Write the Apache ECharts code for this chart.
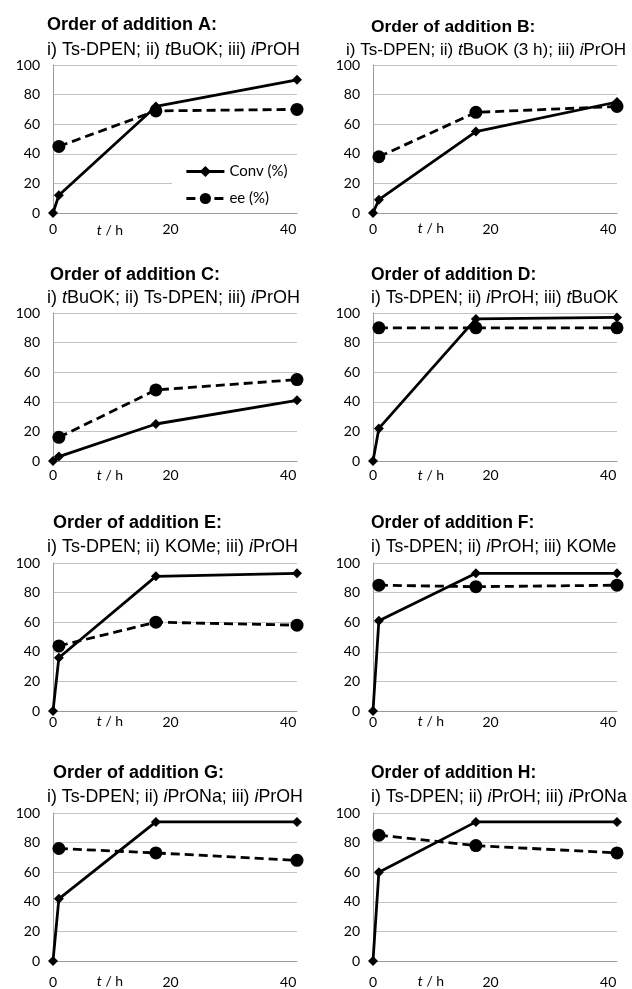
<!DOCTYPE html>
<html>
<head>
<meta charset="utf-8">
<script src="https://cdn.jsdelivr.net/npm/echarts@6/dist/echarts.min.js"></script>
<style>
html,body{margin:0;padding:0;background:#fff;}
#chart{width:632px;height:989px;}
</style>
</head>
<body>
<div id="chart"></div>
<script>
// ---- data ----
const panelLetters = ['A', 'B', 'C', 'D', 'E', 'F', 'G', 'H'];
// subtitle segments: [text, italic?]
const panelOrders = [
  [['i) Ts-DPEN; ii) ', 0], ['t', 1], ['BuOK; iii) ', 0], ['i', 1], ['PrOH', 0]],
  [['i) Ts-DPEN; ii) ', 0], ['t', 1], ['BuOK (3 h); iii) ', 0], ['i', 1], ['PrOH', 0]],
  [['i) ', 0], ['t', 1], ['BuOK; ii) Ts-DPEN; iii) ', 0], ['i', 1], ['PrOH', 0]],
  [['i) Ts-DPEN; ii) ', 0], ['i', 1], ['PrOH; iii) ', 0], ['t', 1], ['BuOK', 0]],
  [['i) Ts-DPEN; ii) KOMe; iii) ', 0], ['i', 1], ['PrOH', 0]],
  [['i) Ts-DPEN; ii) ', 0], ['i', 1], ['PrOH; iii) KOMe', 0]],
  [['i) Ts-DPEN; ii) ', 0], ['i', 1], ['PrONa; iii) ', 0], ['i', 1], ['PrOH', 0]],
  [['i) Ts-DPEN; ii) ', 0], ['i', 1], ['PrOH; iii) ', 0], ['i', 1], ['PrONa', 0]]
];
const convTimes = [0, 1, 17.5, 41.5];
const eeTimes = [1, 17.5, 41.5];
const convA = [0, 12, 72, 90];
const eeA = [45, 69, 70];
const convB = [0, 9, 55, 75];
const eeB = [38, 68, 72];
const convC = [0, 3, 25, 41];
const eeC = [16, 48, 55];
const convD = [0, 22, 96, 97];
const eeD = [90, 90, 90];
const convE = [0, 36, 91, 93];
const eeE = [44, 60, 58];
const convF = [0, 61, 93, 93];
const eeF = [85, 84, 85];
const convG = [0, 42, 94, 94];
const eeG = [76, 73, 68];
const convH = [0, 60, 94, 94];
const eeH = [85, 78, 73];
const xTickLabels = [0, 20, 40];
const yTickLabels = [0, 20, 40, 60, 80, 100];
const seriesNames = ['Conv (%)', 'ee (%)'];
const xAxisTitle = [['t', 1], [' / h', 0]];

const convAll = [convA, convB, convC, convD, convE, convF, convG, convH];
const eeAll = [eeA, eeB, eeC, eeD, eeE, eeF, eeG, eeH];

// ---- layout ----
const gridLeft = [53, 373];
const gridTop = [65, 313, 563, 813];
const gridW = 244, gridH = 148;
const labelMargin = [9, 7, 4, 14];
const titlePos = [
  [47, 25, 47, 50], [371, 27, 346, 50],
  [50, 275, 47, 298], [371, 275, 371, 298],
  [53, 523, 47, 547], [371, 523, 371, 547],
  [53, 773, 47, 797], [371, 773, 371, 797]
];
const titleSize = [18, 17.4, 18, 17.5, 18, 17.5, 18, 17.5];
const subSize = [18, 17.1, 18, 17.6, 18, 17.6, 17.8, 17.8];
const tLabelPos = [
  [110, 230], [431, 228], [110, 475], [431, 475],
  [110, 721], [431, 721], [110, 981], [431, 981]
];

const FONT_T = 'Liberation Sans, Arial, sans-serif';
const FONT_N = 'Lato, Liberation Sans, sans-serif';
const gridColor = '#c3c3c3';
const axisColor = '#9a9a9a';

function richText(segs) {
  return segs.map(s => '{' + (s[1] ? 'i' : 'n') + '|' + s[0] + '}').join('');
}

const grids = [], xAxes = [], yAxes = [], series = [], titles = [], graphics = [];
for (let p = 0; p < 8; p++) {
  const col = p % 2, row = Math.floor(p / 2);
  grids.push({ left: gridLeft[col], top: gridTop[row], width: gridW, height: gridH, containLabel: false });
  xAxes.push({
    type: 'value', gridIndex: p, min: 0, max: convTimes[convTimes.length - 1], interval: 20,
    axisLine: { show: true, onZero: false, lineStyle: { color: axisColor, width: 1 } },
    axisTick: { show: false },
    splitLine: { show: false },
    axisLabel: {
      margin: labelMargin[row], color: '#000', fontFamily: FONT_N, fontSize: 14,
      formatter: v => (xTickLabels.indexOf(v) >= 0 ? String(v) : ''),
      showMaxLabel: false
    }
  });
  yAxes.push({
    type: 'value', gridIndex: p, min: 0, max: 100, interval: 20,
    axisLine: { show: true, lineStyle: { color: axisColor, width: 1 } },
    axisTick: { show: false },
    splitLine: { show: true, lineStyle: { color: gridColor, width: 1 } },
    axisLabel: {
      margin: 13, color: '#000', fontFamily: FONT_N, fontSize: 14,
      formatter: v => (yTickLabels.indexOf(v) >= 0 ? String(v) : '')
    }
  });
  series.push({
    name: seriesNames[0], type: 'line', xAxisIndex: p, yAxisIndex: p,
    data: convTimes.map((t, i) => [t, convAll[p][i]]),
    symbol: 'diamond', symbolSize: 10,
    lineStyle: { color: '#000', width: 2.8, type: 'solid' },
    itemStyle: { color: '#000', borderWidth: 0 },
    emphasis: { disabled: true }, animation: false, z: 3
  });
  series.push({
    name: seriesNames[1], type: 'line', xAxisIndex: p, yAxisIndex: p,
    data: eeTimes.map((t, i) => [t, eeAll[p][i]]),
    symbol: 'circle', symbolSize: 13,
    lineStyle: { color: '#000', width: 2.8, type: [9, 5] },
    itemStyle: { color: '#000', borderWidth: 0 },
    emphasis: { disabled: true }, animation: false, z: 4
  });
  const tp = titlePos[p];
  titles.push({
    text: '{b|Order of addition ' + panelLetters[p] + ':}',
    left: tp[0], top: tp[1] - 10, padding: 0,
    textStyle: { fontWeight: 'bold', rich: { b: { fontFamily: FONT_T, fontWeight: 'bold', fontSize: titleSize[p], color: '#000', lineHeight: 20 } } }
  });
  titles.push({
    text: richText(panelOrders[p]),
    left: tp[2], top: tp[3] - 10, padding: 0,
    textStyle: {
      fontWeight: 'normal',
      rich: {
        n: { fontFamily: FONT_T, fontWeight: 'normal', fontSize: subSize[p], color: '#000', lineHeight: 20 },
        i: { fontFamily: FONT_T, fontWeight: 'normal', fontSize: subSize[p], fontStyle: 'italic', color: '#000', lineHeight: 20 }
      }
    }
  });
  const lp = tLabelPos[p];
  graphics.push({
    type: 'text', x: lp[0], y: lp[1], silent: true,
    style: {
      text: richText(xAxisTitle), align: 'center', verticalAlign: 'middle',
      textAlign: 'center', textVerticalAlign: 'middle',
      rich: {
        n: { fontFamily: FONT_N, fontSize: 14, fill: '#000', color: '#000' },
        i: { fontFamily: FONT_N, fontSize: 14, fontStyle: 'italic', fill: '#000', color: '#000' }
      }
    }
  });
}

const chart = echarts.init(document.getElementById('chart'), null, { renderer: 'canvas' });
chart.setOption({
  backgroundColor: '#fff',
  animation: false,
  title: titles,
  grid: grids,
  xAxis: xAxes,
  yAxis: yAxes,
  series: series,
  graphic: graphics,
  legend: {
    data: seriesNames, orient: 'vertical', left: 172, top: 157,
    backgroundColor: '#fff', padding: [7, 10, 6, 13],
    itemWidth: 38, itemHeight: 14, itemGap: 12,
    selectedMode: false,
    lineStyle: { width: 2.8 },
    textStyle: { fontFamily: FONT_N, fontSize: 15, color: '#000' }
  },
  tooltip: { show: false }
});
</script>
</body>
</html>
